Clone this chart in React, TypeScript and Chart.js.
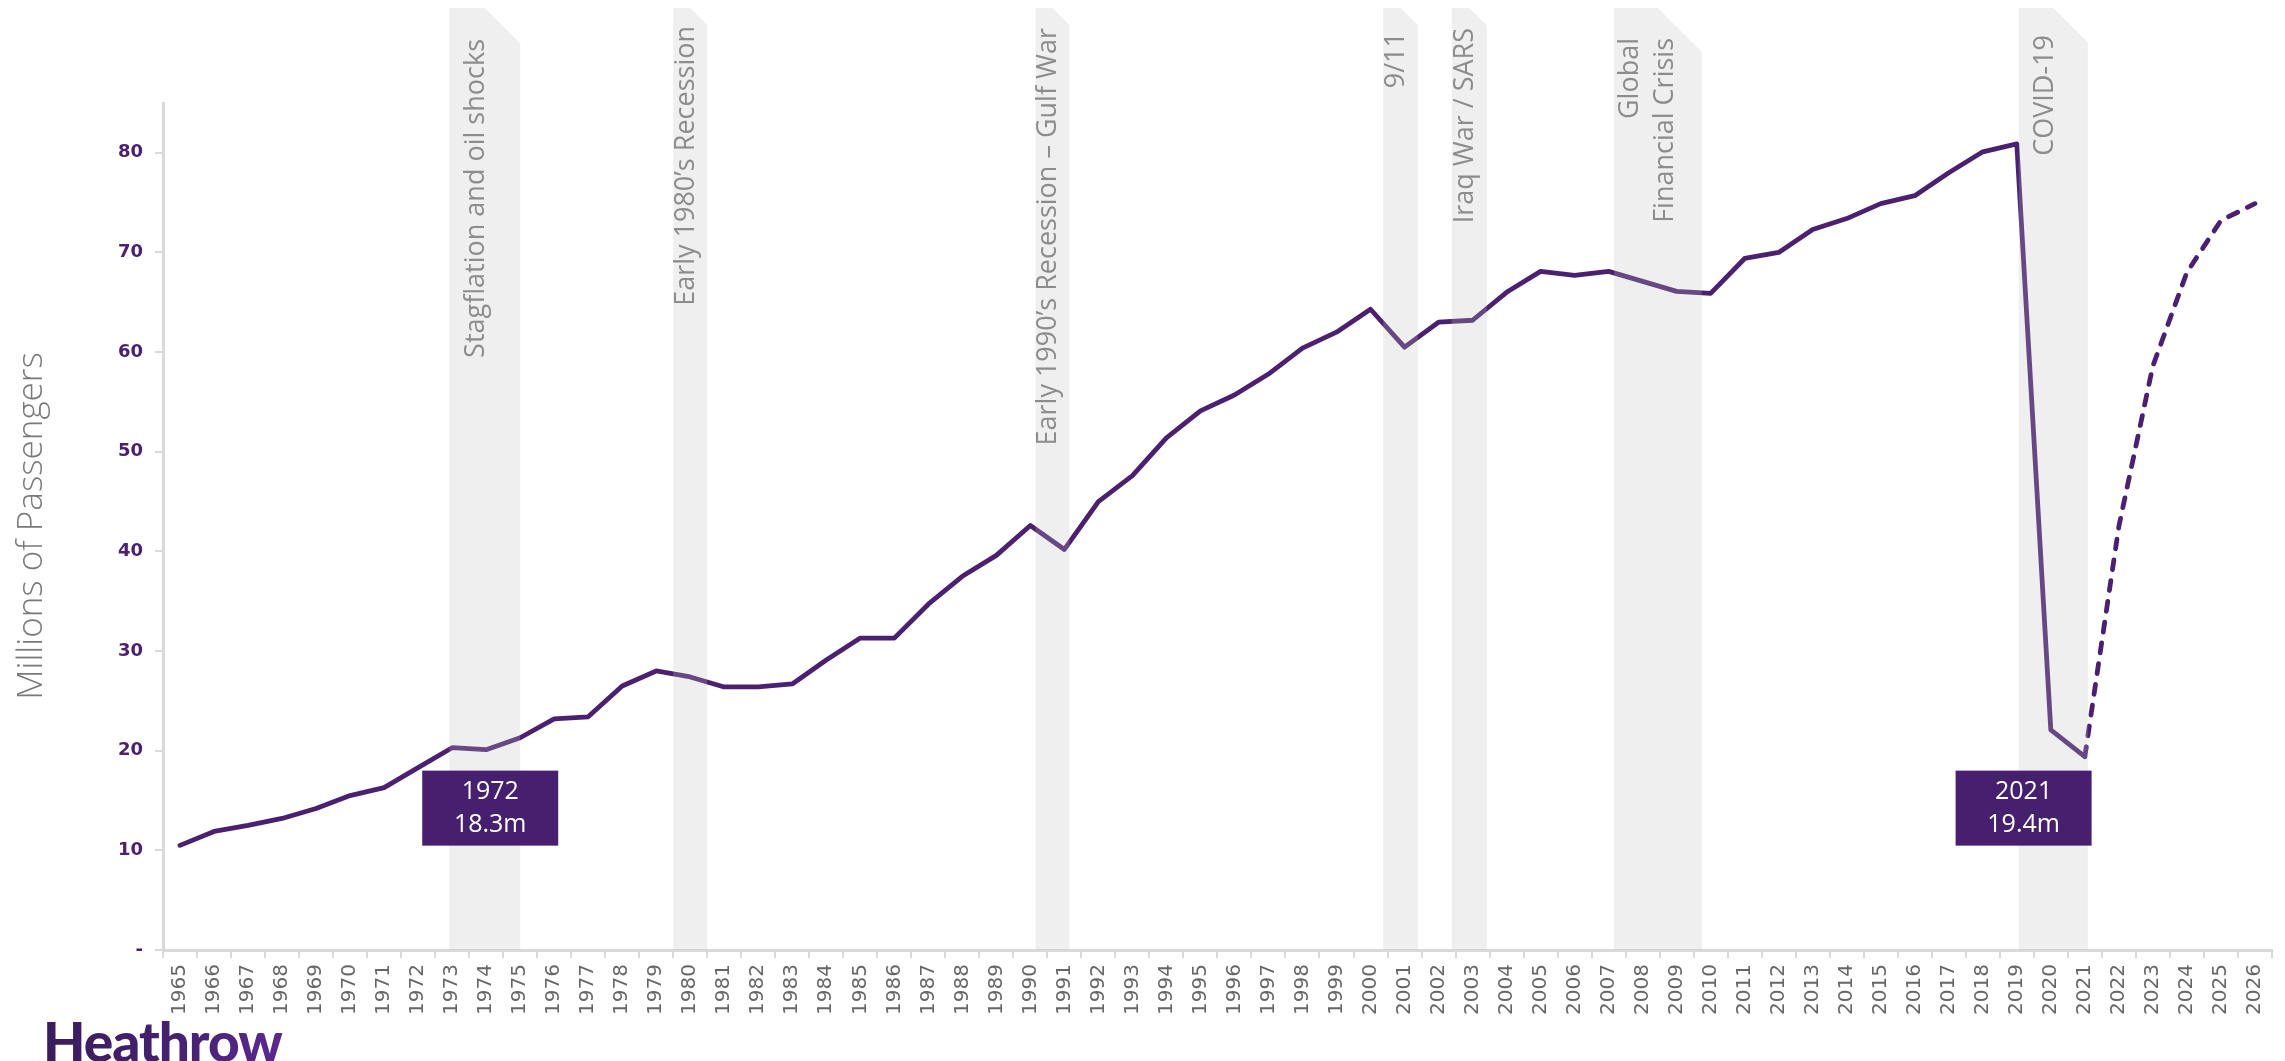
import React, { useEffect, useRef } from 'react';
import { Chart, registerables } from 'chart.js';

Chart.register(...registerables);

// ---------- DATA ----------
const years = [
  '1965', '1966', '1967', '1968', '1969', '1970', '1971', '1972', '1973', '1974',
  '1975', '1976', '1977', '1978', '1979', '1980', '1981', '1982', '1983', '1984',
  '1985', '1986', '1987', '1988', '1989', '1990', '1991', '1992', '1993', '1994',
  '1995', '1996', '1997', '1998', '1999', '2000', '2001', '2002', '2003', '2004',
  '2005', '2006', '2007', '2008', '2009', '2010', '2011', '2012', '2013', '2014',
  '2015', '2016', '2017', '2018', '2019', '2020', '2021', '2022', '2023', '2024',
  '2025', '2026',
];

// Millions of passengers (actuals 1965-2021)
const actualPassengers: (number | null)[] = [
  10.5, 11.9, 12.5, 13.2, 14.2, 15.5, 16.3, 18.3, 20.3, 20.1,
  21.3, 23.2, 23.4, 26.5, 28.0, 27.4, 26.4, 26.4, 26.7, 29.1,
  31.3, 31.3, 34.7, 37.5, 39.6, 42.6, 40.2, 45.0, 47.6, 51.4,
  54.1, 55.7, 57.8, 60.4, 62.0, 64.3, 60.5, 63.0, 63.2, 66.0,
  68.1, 67.7, 68.1, 67.1, 66.1, 65.9, 69.4, 70.0, 72.3, 73.4,
  74.9, 75.7, 78.0, 80.1, 80.9, 22.1, 19.4, null, null, null,
  null, null,
];

// Forecast (dashed) 2021-2026
const forecastPassengers: (number | null)[] = [
  null, null, null, null, null, null, null, null, null, null,
  null, null, null, null, null, null, null, null, null, null,
  null, null, null, null, null, null, null, null, null, null,
  null, null, null, null, null, null, null, null, null, null,
  null, null, null, null, null, null, null, null, null, null,
  null, null, null, null, null, null, 19.4, 42.5, 58.6, 68.0,
  73.2, 74.9,
];

const yTickValues = [0, 10, 20, 30, 40, 50, 60, 70, 80];

const bandLabels: string[][] = [
  ['Stagflation and oil shocks'],
  ['Early 1980’s Recession'],
  ['Early 1990’s Recession – Gulf War'],
  ['9/11'],
  ['Iraq War / SARS'],
  ['Global', 'Financial Crisis'],
  ['COVID-19'],
];
const bandStartYears = [1972.92, 1979.5, 1990.15, 2000.37, 2002.39, 2007.16, 2019.06];
const bandEndYears = [1975.0, 1980.5, 1991.15, 2001.39, 2003.42, 2009.74, 2021.09];

const calloutYears = ['1972', '2021'];
const calloutValues = ['18.3m', '19.4m'];

// ---------- STYLE ----------
const PURPLE = '#4b2070';
const BOX_PURPLE = '#46206e';
const FIRST_YEAR = 1965;
const BAND_TOP = 8;
const BAND_LABEL_END_Y = [39, 26, 28, 32, 28, 38, 35];
const BAND_LINE_GAP = 35;
const CALLOUT_CENTER_YEARS = [1974.12, 2019.2];
const CALLOUT_TOP_VALUE = 18.0;
const CALLOUT_W = 136;
const CALLOUT_H = 75;

const decorations = {
  id: 'decorations',
  afterDatasetsDraw(chart: any) {
    const { ctx } = chart;
    const xs = chart.scales.x;
    const ys = chart.scales.y;
    const base = ys.getPixelForValue(0);
    ctx.save();
    // shaded event bands (semi-transparent, over the line)
    bandStartYears.forEach((s, i) => {
      const x1 = xs.getPixelForValue(s - FIRST_YEAR);
      const x2 = xs.getPixelForValue(bandEndYears[i] - FIRST_YEAR);
      const cut = (x2 - x1) / 2;
      ctx.beginPath();
      ctx.moveTo(x1, BAND_TOP);
      ctx.lineTo(x2 - cut, BAND_TOP);
      ctx.lineTo(x2, BAND_TOP + cut);
      ctx.lineTo(x2, base);
      ctx.lineTo(x1, base);
      ctx.closePath();
      ctx.fillStyle = 'rgba(190,190,190,0.25)';
      ctx.fill();
    });
    // band labels
    ctx.font = "400 27px 'Open Sans'";
    ctx.fillStyle = '#8c8c8c';
    ctx.textAlign = 'right';
    ctx.textBaseline = 'middle';
    bandLabels.forEach((lines, i) => {
      const x1 = xs.getPixelForValue(bandStartYears[i] - FIRST_YEAR);
      const x2 = xs.getPixelForValue(bandEndYears[i] - FIRST_YEAR);
      const cx = x1 + (x2 - x1) * 0.38;
      lines.forEach((line, j) => {
        const lx = cx + (j - (lines.length - 1) / 2) * BAND_LINE_GAP;
        ctx.save();
        ctx.translate(lx, BAND_LABEL_END_Y[i]);
        ctx.rotate(-Math.PI / 2);
        ctx.fillText(line, 0, 0);
        ctx.restore();
      });
    });
    // callout boxes
    calloutYears.forEach((yr, i) => {
      const cx = xs.getPixelForValue(CALLOUT_CENTER_YEARS[i] - FIRST_YEAR);
      const top = ys.getPixelForValue(CALLOUT_TOP_VALUE);
      ctx.fillStyle = BOX_PURPLE;
      ctx.fillRect(cx - CALLOUT_W / 2, top, CALLOUT_W, CALLOUT_H);
      ctx.fillStyle = '#ffffff';
      ctx.font = "400 25px 'Open Sans'";
      ctx.textAlign = 'center';
      ctx.textBaseline = 'middle';
      ctx.fillText(yr, cx, top + 21);
      ctx.fillText(calloutValues[i], cx, top + 54);
    });
    ctx.restore();
  },
  afterDraw(chart: any) {
    const { ctx } = chart;
    ctx.save();
    // y axis title
    ctx.font = "300 35px 'Open Sans'";
    ctx.fillStyle = '#7a7a7a';
    ctx.textAlign = 'center';
    ctx.textBaseline = 'middle';
    ctx.translate(32, 526);
    ctx.rotate(-Math.PI / 2);
    ctx.fillText('Millions of Passengers', 0, 0);
    ctx.restore();
    // logo
    ctx.save();
    const g = ctx.createLinearGradient(43, 0, 285, 0);
    g.addColorStop(0, '#3a1d5c');
    g.addColorStop(0.5, '#44206e');
    g.addColorStop(1, '#5a2a90');
    ctx.fillStyle = g;
    ctx.font = "900 55px Lato";
    try { (ctx as any).letterSpacing = '-1px'; } catch (e) { /* ignore */ }
    ctx.textAlign = 'left';
    ctx.textBaseline = 'alphabetic';
    ctx.fillText('Heathrow', 43, 1062);
    ctx.restore();
  },
};

export default function App() {
  const canvasRef = useRef<HTMLCanvasElement | null>(null);

  useEffect(() => {
    if (!canvasRef.current) return;
    const chart = new Chart(canvasRef.current, {
      type: 'line',
      data: {
        labels: years,
        datasets: [
          {
            label: 'Actual',
            data: actualPassengers,
            borderColor: PURPLE,
            borderWidth: 4.8,
            pointRadius: 0,
            tension: 0,
            borderJoinStyle: 'round',
            borderCapStyle: 'round',
            spanGaps: false,
          },
          {
            label: 'Forecast',
            data: forecastPassengers,
            borderColor: PURPLE,
            borderWidth: 4.8,
            borderDash: [10, 11],
            borderCapStyle: 'round',
            pointRadius: 0,
            tension: 0,
            spanGaps: false,
          },
        ],
      },
      options: {
        animation: false,
        responsive: false,
        maintainAspectRatio: false,
        layout: { padding: { top: 103, right: 13, left: 0, bottom: 0 } },
        plugins: { legend: { display: false }, tooltip: { enabled: false } },
        scales: {
          x: {
            offset: true,
            grid: {
              offset: true,
              drawOnChartArea: false,
              drawTicks: true,
              tickLength: 8,
              color: '#d9d9d9',
              lineWidth: 2,
            },
            border: { display: true, color: '#d9d9d9', width: 3 },
            ticks: {
              autoSkip: false,
              maxRotation: 90,
              minRotation: 90,
              padding: 6,
              color: '#666666',
              font: { family: 'DejaVu Sans', size: 20 },
            },
            afterFit: (s: any) => { s.height = 111; },
          },
          y: {
            min: 0,
            max: 85,
            afterBuildTicks: (s: any) => { s.ticks = yTickValues.map((v) => ({ value: v })); },
            grid: {
              drawOnChartArea: false,
              drawTicks: true,
              tickLength: 8,
              color: '#d9d9d9',
              lineWidth: 2,
            },
            border: { display: true, color: '#d9d9d9', width: 3 },
            ticks: {
              padding: 12,
              color: PURPLE,
              font: { family: 'DejaVu Sans', size: 18, weight: 'bold' },
              callback: (v: any) => (Number(v) === 0 ? '-' : String(v)),
            },
            afterFit: (s: any) => { s.width = 163; },
          },
        },
      } as any,
      plugins: [decorations],
    });
    return () => chart.destroy();
  }, []);

  return (
    <div style={{ position: 'fixed', left: 0, top: 0, width: 2285, height: 1061, background: '#ffffff' }}>
      <canvas ref={canvasRef} width={2285} height={1061} style={{ display: 'block', width: 2285, height: 1061 }} />
    </div>
  );
}
